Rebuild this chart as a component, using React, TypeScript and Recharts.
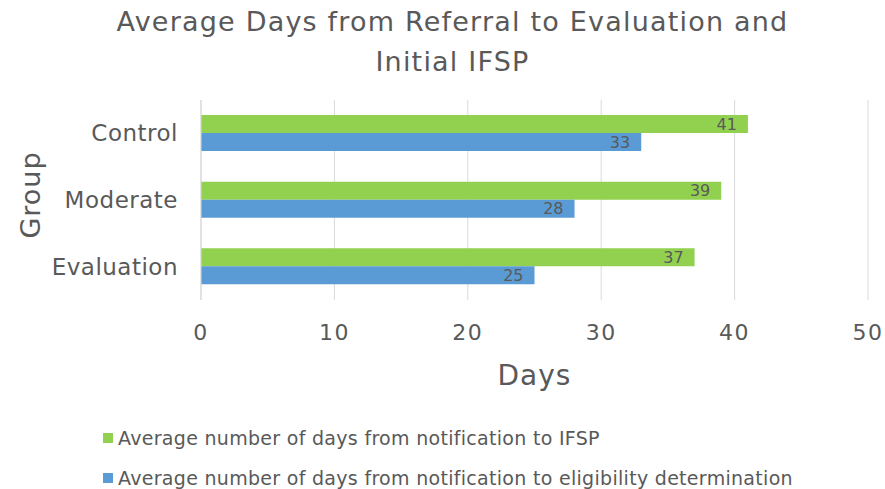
import { BarChart, Bar, XAxis, YAxis, CartesianGrid, LabelList } from "recharts";

const groups = ["Control", "Moderate", "Evaluation"];
const daysToIfsp = [41, 39, 37];
const daysToEligibility = [33, 28, 25];
const xTicks = [0, 10, 20, 30, 40, 50];

const seriesInfo = [
  { key: "ifsp", label: "Average number of days from notification to IFSP", color: "#92D050" },
  { key: "elig", label: "Average number of days from notification to eligibility determination", color: "#5B9BD5" },
];

const data = groups.map((g, i) => ({ group: g, ifsp: daysToIfsp[i], elig: daysToEligibility[i] }));

const FONT = "'DejaVu Sans', Verdana, sans-serif";
const TEXT = "#595959";

function LegendBox() {
  return (
    <div
      style={{
        position: "absolute",
        left: 103,
        top: 418,
        fontFamily: FONT,
        fontSize: 19,
        letterSpacing: 0.3,
        color: TEXT,
        whiteSpace: "nowrap",
      }}
    >
      {seriesInfo.map((s) => (
        <div key={s.key} style={{ display: "flex", alignItems: "center", height: 40 }}>
          <span style={{ width: 10, height: 10, background: s.color, marginRight: 5, display: "inline-block" }} />
          <span>{s.label}</span>
        </div>
      ))}
    </div>
  );
}

export default function App() {
  return (
    <div style={{ position: "absolute", left: 0, top: 0, width: 885, height: 489, background: "#fff", fontFamily: FONT }}>
      <div
        style={{
          position: "absolute",
          left: 0,
          top: 2,
          width: 905,
          textAlign: "center",
          fontSize: 27,
          letterSpacing: 1.2,
          lineHeight: "40px",
          color: TEXT,
        }}
      >
        Average Days from Referral to Evaluation and
        <br />
        Initial IFSP
      </div>
      <div
        style={{
          position: "absolute",
          left: 30,
          top: 195,
          transform: "translate(-50%, -50%) rotate(-90deg)",
          fontSize: 27,
          letterSpacing: 1,
          color: TEXT,
          whiteSpace: "nowrap",
        }}
      >
        Group
      </div>
      <BarChart
        width={885}
        height={489}
        data={data}
        layout="vertical"
        margin={{ top: 100, right: 17, bottom: 99, left: 0 }}
        barGap={0}
        barSize={18}
      >
        <CartesianGrid horizontal={false} stroke="#D9D9D9" />
        <XAxis
          type="number"
          domain={[0, 50]}
          ticks={xTicks}
          axisLine={false}
          tickLine={false}
          tickSize={0}
          tickMargin={24}
          height={90}
          tick={{ fill: TEXT, fontSize: 22, fontFamily: FONT, letterSpacing: 1.5 }}
          label={{ value: "Days", position: "insideBottom", offset: 5, fill: TEXT, fontSize: 28, fontFamily: FONT, letterSpacing: 1 }}
        />
        <YAxis
          type="category"
          dataKey="group"
          width={201}
          axisLine={{ stroke: "#D9D9D9" }}
          tickLine={false}
          tickSize={0}
          tickMargin={23}
          tick={{ fill: TEXT, fontSize: 23, fontFamily: FONT, letterSpacing: 0.5 }}
        />
        {seriesInfo.map((s) => (
          <Bar key={s.key} dataKey={s.key} name={s.label} fill={s.color} isAnimationActive={false}>
            <LabelList dataKey={s.key} position="insideRight" offset={11} fill={TEXT} fontSize={16} fontFamily={FONT} />
          </Bar>
        ))}
      </BarChart>
      <LegendBox />
    </div>
  );
}
